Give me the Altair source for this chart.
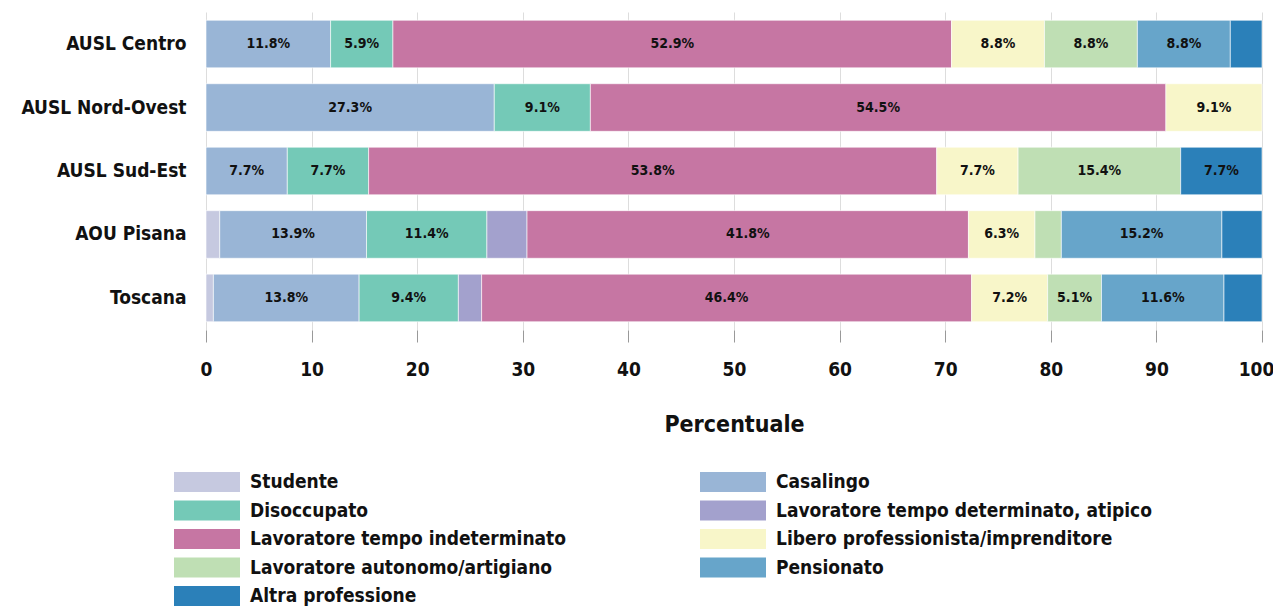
import altair as alt
import pandas as pd

regions = ["AUSL Centro", "AUSL Nord-Ovest", "AUSL Sud-Est", "AOU Pisana", "Toscana"]
categories = [
    "Studente",
    "Casalingo",
    "Disoccupato",
    "Lavoratore tempo determinato, atipico",
    "Lavoratore tempo indeterminato",
    "Libero professionista/imprenditore",
    "Lavoratore autonomo/artigiano",
    "Pensionato",
    "Altra professione",
]
colors = ["#c6c9e0", "#99b5d6", "#74c9b7", "#a3a1cd", "#c676a3",
          "#f8f6c9", "#bfdfb4", "#67a5ca", "#2b80b9"]

ausl_centro = [0.0, 11.8, 5.9, 0.0, 52.9, 8.8, 8.8, 8.8, 3.0]
ausl_nord_ovest = [0.0, 27.3, 9.1, 0.0, 54.5, 9.1, 0.0, 0.0, 0.0]
ausl_sud_est = [0.0, 7.7, 7.7, 0.0, 53.8, 7.7, 15.4, 0.0, 7.7]
aou_pisana = [1.3, 13.9, 11.4, 3.8, 41.8, 6.3, 2.5, 15.2, 3.8]
toscana = [0.7, 13.8, 9.4, 2.2, 46.4, 7.2, 5.1, 11.6, 3.6]

series = [ausl_centro, ausl_nord_ovest, ausl_sud_est, aou_pisana, toscana]
rows = []
for r, vals in zip(regions, series):
    for i, (c, v) in enumerate(zip(categories, vals)):
        if v > 0:
            rows.append({"region": r, "cat": c, "ord": i, "value": v})
df = pd.DataFrame(rows)

FONT = "DejaVu Sans Condensed"

base = alt.Chart(df).transform_stack(
    stack="value", groupby=["region"], sort=[alt.SortField("ord", order="ascending")],
    as_=["x0", "x1"]
).transform_calculate(
    mid="(datum.x0 + datum.x1) / 2",
    label="format(datum.value, '.1f') + '%'"
)

ysc = alt.Y("region:N", sort=regions, title=None,
            scale=alt.Scale(paddingInner=0.25, paddingOuter=0.13),
            axis=alt.Axis(labelFontSize=19, labelFontWeight="bold", labelColor="#111",
                          labelPadding=20, ticks=False, domain=False, labelFont=FONT))

bars = base.mark_bar(stroke="white", strokeWidth=0.6).encode(
    x=alt.X("x0:Q", scale=alt.Scale(domain=[0, 100], nice=False),
            title="Percentuale",
            axis=alt.Axis(values=list(range(0, 101, 10)), labelFontSize=19, labelFontWeight="bold",
                          labelColor="#111", tickSize=12, tickColor="#999", labelPadding=18,
                          labelFlush=False,
                          labelOffset={"condition": {"test": "datum.value == 100", "value": -6},
                                       "value": 0},
                          titleFontSize=23, titleFontWeight="bold", titleColor="#111",
                          titlePadding=34, domain=False, grid=True, gridColor="#dddddd",
                          labelFont=FONT, titleFont=FONT)),
    x2="x1:Q",
    y=ysc,
    color=alt.Color("cat:N", sort=categories,
                    scale=alt.Scale(domain=categories, range=colors),
                    legend=alt.Legend(title=None, orient="none", legendX=-32, legendY=460,
                                      direction="horizontal",
                                      columns=2, columnPadding=133, rowPadding=8.5,
                                      symbolType="M-1,-1H5.6V1H-1Z", symbolSize=400,
                                      symbolStrokeWidth=0, symbolOpacity=1,
                                      labelFontSize=19, labelFontWeight="bold", labelColor="#111",
                                      labelOffset=56, labelFont=FONT, labelLimit=500)),
    order=alt.Order("ord:Q"),
)

texts = base.transform_filter("datum.value >= 5").mark_text(
    fontSize=14, fontWeight="bold", color="#111", font=FONT
).encode(
    x=alt.X("mid:Q"),
    y=alt.Y("region:N", sort=regions),
    text="label:N",
)

chart = alt.layer(bars, texts).properties(
    width=1056, height=318,
    autosize=alt.AutoSizeParams(type="none"),
    padding={"left": 198, "top": 4, "right": 11, "bottom": 277},
).configure_view(stroke=None)

chart.save("out.html", embed_options={"renderer": "svg", "actions": False})
